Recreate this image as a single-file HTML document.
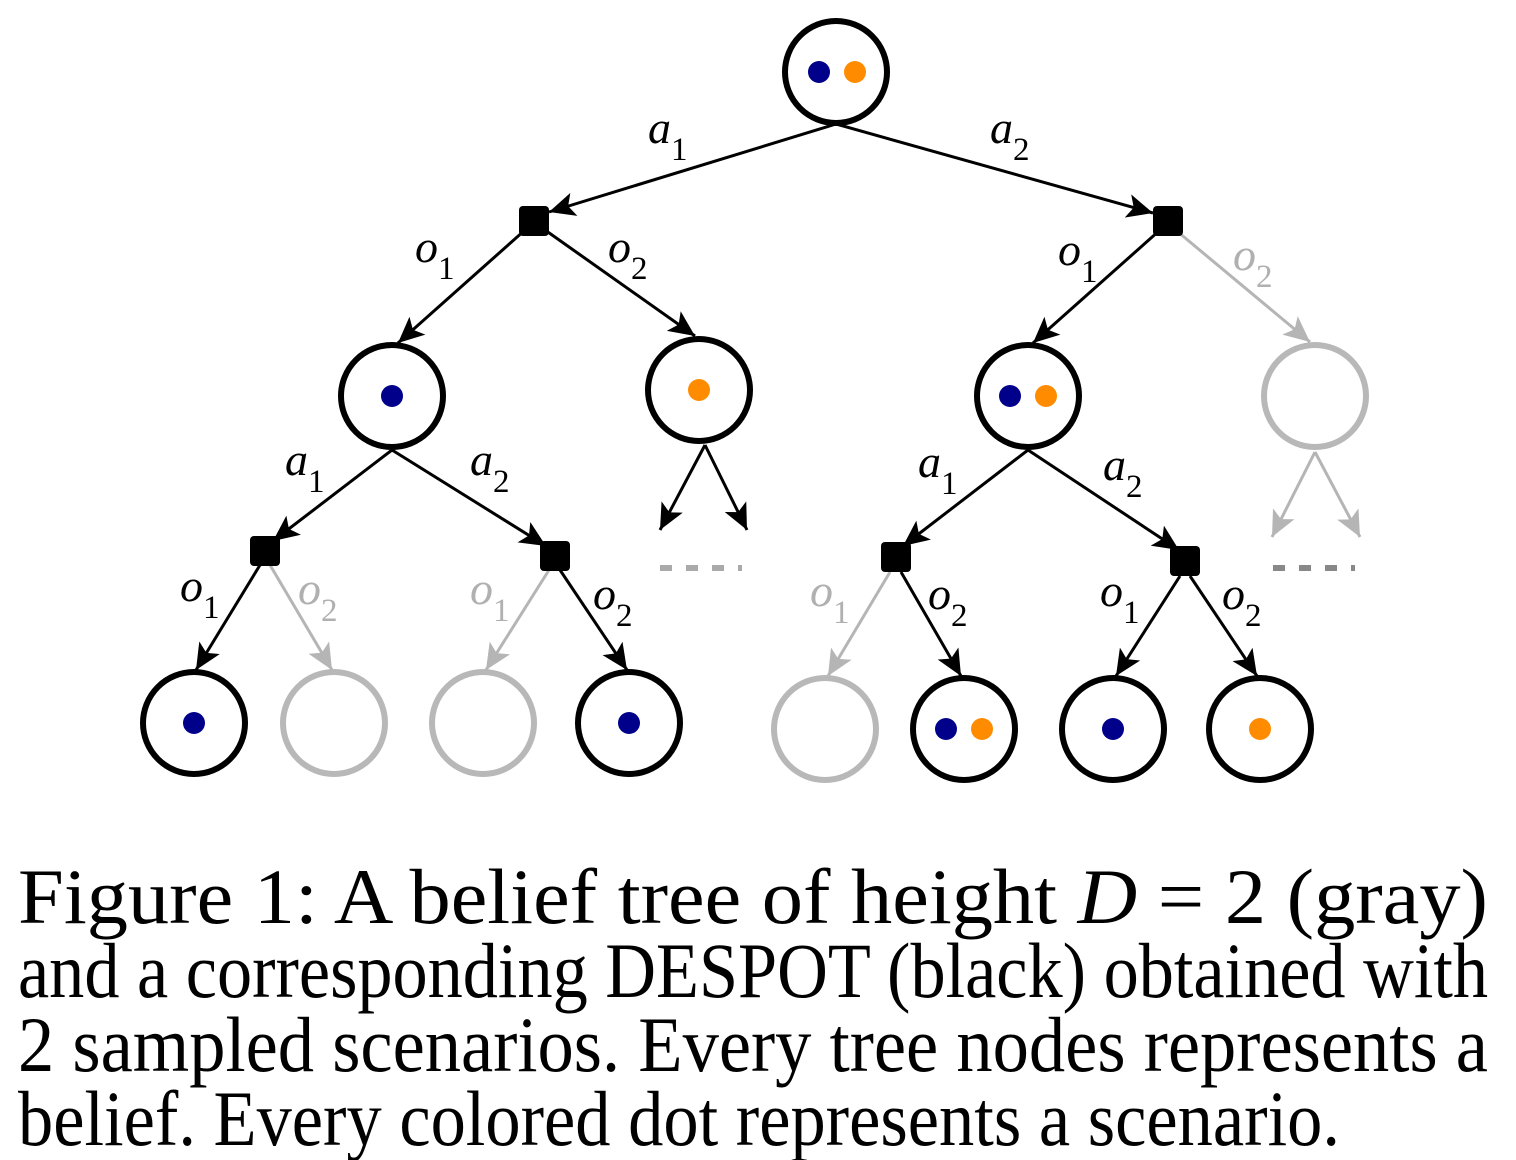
<!DOCTYPE html>
<html><head><meta charset="utf-8"><style>
html,body{margin:0;padding:0;background:#fff;}
svg{display:block;}
text,tspan{font-family:"Liberation Serif","Times New Roman",Times,"Nimbus Roman","Nimbus Roman No9 L",serif;}
</style></head><body>
<svg width="1516" height="1160" viewBox="0 0 1516 1160" xmlns="http://www.w3.org/2000/svg">
<defs>
<marker id="ab" markerUnits="userSpaceOnUse" markerWidth="28" markerHeight="24" refX="26" refY="12" orient="auto">
<path d="M0,0 L26,12 L0,24 L6,12 Z" fill="#000"/></marker>
<marker id="ag" markerUnits="userSpaceOnUse" markerWidth="28" markerHeight="24" refX="26" refY="12" orient="auto">
<path d="M0,0 L26,12 L0,24 L6,12 Z" fill="#b5b5b5"/></marker>
</defs>
<g stroke-width="3" fill="none">
<g stroke="#000" marker-end="url(#ab)">
<line x1="836" y1="124" x2="549" y2="212"/>
<line x1="836" y1="124" x2="1153" y2="213"/>
<line x1="525" y1="230" x2="398" y2="343"/>
<line x1="545" y1="230" x2="695" y2="336"/>
<line x1="1160" y1="230" x2="1033" y2="343"/>
<line x1="392" y1="450" x2="273" y2="541"/>
<line x1="392" y1="450" x2="546" y2="546"/>
<line x1="1028" y1="450" x2="903" y2="546"/>
<line x1="1028" y1="450" x2="1179" y2="550"/>
<line x1="260" y1="565" x2="196" y2="670"/>
<line x1="560" y1="570" x2="627" y2="670"/>
<line x1="901" y1="572" x2="961" y2="676"/>
<line x1="1180" y1="576" x2="1116" y2="676"/>
<line x1="1190" y1="576" x2="1257" y2="676"/>
<line x1="705" y1="445" x2="660" y2="530"/>
<line x1="705" y1="445" x2="747" y2="530"/>
</g>
<g stroke="#b5b5b5" marker-end="url(#ag)">
<line x1="1178" y1="232" x2="1310" y2="342"/>
<line x1="270" y1="565" x2="332" y2="670"/>
<line x1="549" y1="570" x2="486" y2="670"/>
<line x1="890" y1="572" x2="828" y2="676"/>
<line x1="1315" y1="452" x2="1272" y2="537"/>
<line x1="1315" y1="452" x2="1360" y2="537"/>
</g>
<line x1="660" y1="568" x2="742" y2="568" stroke="#aaa" stroke-width="6" stroke-dasharray="12,14"/>
<line x1="1273" y1="568" x2="1355" y2="568" stroke="#888" stroke-width="6" stroke-dasharray="12,14"/>
</g>
<g fill="#000">
<rect x="519" y="206" width="30" height="30" rx="4"/>
<rect x="1153" y="206" width="30" height="30" rx="4"/>
<rect x="250" y="536" width="30" height="30" rx="4"/>
<rect x="540" y="541" width="30" height="30" rx="4"/>
<rect x="881" y="542" width="30" height="30" rx="4"/>
<rect x="1170" y="546" width="30" height="30" rx="4"/>
</g>
<g fill="#fff" stroke-width="6">
<g stroke="#000">
<circle cx="836" cy="72" r="51"/>
<circle cx="392" cy="396" r="51"/>
<circle cx="699" cy="390" r="51"/>
<circle cx="1028" cy="396" r="51"/>
<circle cx="194" cy="723" r="51"/>
<circle cx="629" cy="723" r="51"/>
<circle cx="964" cy="729" r="51"/>
<circle cx="1113" cy="729" r="51"/>
<circle cx="1260" cy="729" r="51"/>
</g>
<g stroke="#b8b8b8">
<circle cx="1315" cy="396" r="51"/>
<circle cx="334" cy="723" r="51"/>
<circle cx="483" cy="723" r="51"/>
<circle cx="825" cy="729" r="51"/>
</g>
</g>
<g fill="#00008b">
<circle cx="819" cy="72" r="11"/>
<circle cx="392" cy="396" r="11"/>
<circle cx="1010" cy="396" r="11"/>
<circle cx="194" cy="723" r="11"/>
<circle cx="629" cy="723" r="11"/>
<circle cx="946" cy="729" r="11"/>
<circle cx="1113" cy="729" r="11"/>
</g>
<g fill="#ff8c00">
<circle cx="855" cy="72" r="11"/>
<circle cx="699" cy="390" r="11"/>
<circle cx="1046" cy="396" r="11"/>
<circle cx="982" cy="729" r="11"/>
<circle cx="1260" cy="729" r="11"/>
</g>
<g font-size="46">
<g fill="#000">
<text x="648" y="143"><tspan font-style="italic">a</tspan><tspan font-size="33" dy="17">1</tspan></text>
<text x="990" y="143"><tspan font-style="italic">a</tspan><tspan font-size="33" dy="17">2</tspan></text>
<text x="415" y="262"><tspan font-style="italic">o</tspan><tspan font-size="33" dy="17">1</tspan></text>
<text x="608" y="262"><tspan font-style="italic">o</tspan><tspan font-size="33" dy="17">2</tspan></text>
<text x="1058" y="265"><tspan font-style="italic">o</tspan><tspan font-size="33" dy="17">1</tspan></text>
<text x="285" y="475"><tspan font-style="italic">a</tspan><tspan font-size="33" dy="17">1</tspan></text>
<text x="470" y="475"><tspan font-style="italic">a</tspan><tspan font-size="33" dy="17">2</tspan></text>
<text x="918" y="477"><tspan font-style="italic">a</tspan><tspan font-size="33" dy="17">1</tspan></text>
<text x="1103" y="480"><tspan font-style="italic">a</tspan><tspan font-size="33" dy="17">2</tspan></text>
<text x="180" y="601"><tspan font-style="italic">o</tspan><tspan font-size="33" dy="17">1</tspan></text>
<text x="593" y="609"><tspan font-style="italic">o</tspan><tspan font-size="33" dy="17">2</tspan></text>
<text x="928" y="609"><tspan font-style="italic">o</tspan><tspan font-size="33" dy="17">2</tspan></text>
<text x="1100" y="606"><tspan font-style="italic">o</tspan><tspan font-size="33" dy="17">1</tspan></text>
<text x="1222" y="609"><tspan font-style="italic">o</tspan><tspan font-size="33" dy="17">2</tspan></text>
</g>
<g fill="#b0b0b0">
<text x="1233" y="270"><tspan font-style="italic">o</tspan><tspan font-size="33" dy="17">2</tspan></text>
<text x="298" y="604"><tspan font-style="italic">o</tspan><tspan font-size="33" dy="17">2</tspan></text>
<text x="470" y="604"><tspan font-style="italic">o</tspan><tspan font-size="33" dy="17">1</tspan></text>
<text x="810" y="606"><tspan font-style="italic">o</tspan><tspan font-size="33" dy="17">1</tspan></text>
</g>
</g>
<g font-size="78" fill="#000">
<text x="18" y="923" textLength="1470" lengthAdjust="spacingAndGlyphs">Figure  1:   A  belief  tree  of  height  <tspan font-style="italic">D</tspan>  =  2  (gray)</text>
<text x="18" y="997" textLength="1470" lengthAdjust="spacingAndGlyphs">and a corresponding DESPOT (black) obtained with</text>
<text x="18" y="1071" textLength="1470" lengthAdjust="spacingAndGlyphs">2 sampled scenarios.  Every tree nodes represents a</text>
<text x="18" y="1145" textLength="1322" lengthAdjust="spacingAndGlyphs">belief. Every colored dot represents a scenario.</text>
</g>
</svg>
</body></html>
